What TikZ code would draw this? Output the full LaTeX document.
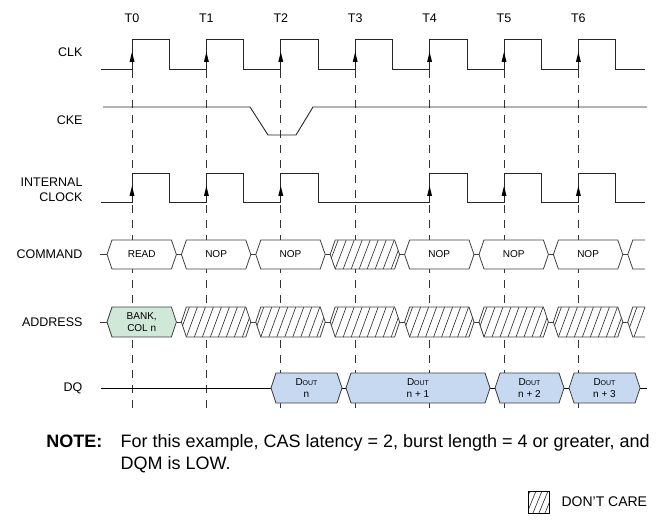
\documentclass[tikz,border=0pt]{standalone}
\usepackage{fontspec}
\setmainfont{Liberation Sans}
\usetikzlibrary{arrows.meta,calc,positioning}
\definecolor{busgreen}{HTML}{CFE8D8}
\definecolor{busblue}{HTML}{C6D9F1}
\definecolor{busline}{HTML}{404040}

\begin{document}
\begin{tikzpicture}[x=1pt,y=-1pt,font=\fontsize{12.5}{15}\selectfont,
  wave/.style={line width=0.9pt,black!85},
  gridline/.style={line width=0.8pt,black!80,dash pattern=on 8pt off 7pt},
  busedge/.style={line width=0.8pt,busline},
  hatchline/.style={line width=0.6pt,black!85},
  boxtext/.style={font=\fontsize{10}{12.5}\selectfont,align=center},
  siglabel/.style={anchor=east,align=right}]
  \useasboundingbox (0,0) rectangle (659,524);

  % clock edges
  \foreach \k in {0,...,6}{
    \draw[gridline] ({132+74.4*\k},70) -- ({132+74.4*\k},413);
    \node (t\k) at ({132+74.4*\k},18) {T\k};
  }

  % signal names
  \node[siglabel] (clk) at (86,52) {CLK};
  \node[siglabel] (cke) at (86,120) {CKE};
  \node[siglabel] (iclk) at (86,190) {INTERNAL\\CLOCK};
  \node[siglabel] (cmd) at (86,254.5) {COMMAND};
  \node[siglabel] (addr) at (86,322) {ADDRESS};
  \node[siglabel] (dq) at (86,388) {DQ};

  % CLK and internal clock
  \draw[wave] (101,69) \foreach \k in {0,...,6}{
      -- ({132+74.4*\k},69) -- ({132+74.4*\k},39)
      -- ({169.5+74.4*\k},39) -- ({169.5+74.4*\k},69)} -- (645,69);
  \draw[wave] (101,202) \foreach \k in {0,1,2,4,5,6}{
      -- ({132+74.4*\k},202) -- ({132+74.4*\k},173)
      -- ({169.5+74.4*\k},173) -- ({169.5+74.4*\k},202)} -- (645,202);
  \foreach \k in {0,...,6}
    \fill[black] ({129.5+74.4*\k},62) -- ({134.5+74.4*\k},62)
      -- ({132+74.4*\k},52) -- cycle;
  \foreach \k in {0,1,2,4,5,6}
    \fill[black] ({129.5+74.4*\k},196) -- ({134.5+74.4*\k},196)
      -- ({132+74.4*\k},186) -- cycle;

  % CKE
  \draw[wave] (103,107) -- (250,107) -- (268,135) -- (296,135)
    -- (313,107) -- (647,107);

  % bus links
  \foreach \yc in {254.5,322}{
    \draw[busedge] (100,\yc) -- (107,\yc);
    \foreach \k in {0,...,6}
      \draw[busedge] ({176.4+74.4*\k},\yc) -- ({181.4+74.4*\k},\yc);
  }

  % COMMAND
  \foreach \k/\txt in {0/READ,1/NOP,2/NOP,4/NOP,5/NOP,6/NOP}{
    \filldraw[busedge,fill=white] ({107+74.4*\k},254.5) -- ++(5,-14.5)
      -- ({171.4+74.4*\k},240) -- ++(5,14.5) -- ++(-5,14.5)
      -- ({112+74.4*\k},269) -- cycle;
    \node[boxtext] (cmd\k) at ({141.7+74.4*\k},254.5) {\txt};
  }
  \draw[busedge] (645,240) -- (632.8,240) -- (627.8,254.5)
    -- (632.8,269) -- (645,269);

  % ADDRESS
  \filldraw[busedge,fill=busgreen] (107,322) -- ++(5,-15) -- (171.4,307)
    -- ++(5,15) -- ++(-5,15) -- (112,337) -- cycle;
  \node[boxtext] (addr0) at (141.7,322) {BANK,\\COL n};

  % don't care fields
  \foreach \k/\yc/\hh in {3/254.5/14.5,1/322/15,2/322/15,3/322/15,
      4/322/15,5/322/15,6/322/15}{
    \begin{scope}
      \clip ({107+74.4*\k},\yc) -- ++(5,-\hh) -- ++(59.4,0) -- ++(5,\hh)
        -- ++(-5,\hh) -- ++(-59.4,0) -- cycle;
      \fill[white] ({100+74.4*\k},{\yc-\hh}) rectangle ++(80,{2*\hh});
      \foreach \h in {0,...,10}
        \draw[hatchline] ({96+74.4*\k+8*\h},{\yc+\hh}) -- ++(11,{-2*\hh});
    \end{scope}
    \draw[busedge] ({107+74.4*\k},\yc) -- ++(5,-\hh) -- ++(59.4,0)
      -- ++(5,\hh) -- ++(-5,\hh) -- ++(-59.4,0) -- cycle;
  }
  \begin{scope}
    \clip (627.8,322) -- (632.8,307) -- (645,307) -- (645,337)
      -- (632.8,337) -- cycle;
    \foreach \h in {0,1,2}
      \draw[hatchline] ({618+8*\h},337) -- ++(11,-30);
  \end{scope}
  \draw[busedge] (645,307) -- (632.8,307) -- (627.8,322)
    -- (632.8,337) -- (645,337);

  % DQ
  \draw[busedge,black] (101,388) -- (271,388);
  \draw[busedge,black] (342,388) -- (346,388) (490,388) -- (495,388)
    (564,388) -- (569,388) (640,388) -- (647,388);
  \foreach \l/\r/\txt [count=\i] in {271/342/n,346/490/n + 1,
      495/564/n + 2,569/640/n + 3}{
    \filldraw[busedge,fill=busblue] (\l,388) -- ++(5,-15) -- ({\r-5},373)
      -- (\r,388) -- ({\r-5},403) -- ({\l+5},403) -- cycle;
    \node[boxtext] (dout\i) at ({(\l+\r)/2},388)
      {D{\fontsize{7}{8}\selectfont OUT}\\\txt};
  }

  % note and legend
  \node[anchor=base east,font=\fontsize{18}{21}\selectfont\bfseries]
    (notehead) at (106,447) {NOTE:};
  \node[anchor=base west,font=\fontsize{18}{21}\selectfont]
    (noteone) at (117,447)
    {For this example, CAS latency = 2, burst length = 4 or greater, and};
  \node[anchor=base west,font=\fontsize{18}{21}\selectfont]
    (notetwo) at (117,469) {DQM is LOW.};
  \begin{scope}
    \clip (528,491) rectangle (549,513);
    \foreach \h in {0,...,4}
      \draw[hatchline] ({521+6*\h},513) -- ++(9,-22);
  \end{scope}
  \draw[busedge,black] (528,491) rectangle (549,513);
  \node[anchor=west,font=\fontsize{14}{16}\selectfont] (dontcare)
    at (558,502) {DON’T CARE};
\end{tikzpicture}
\end{document}
